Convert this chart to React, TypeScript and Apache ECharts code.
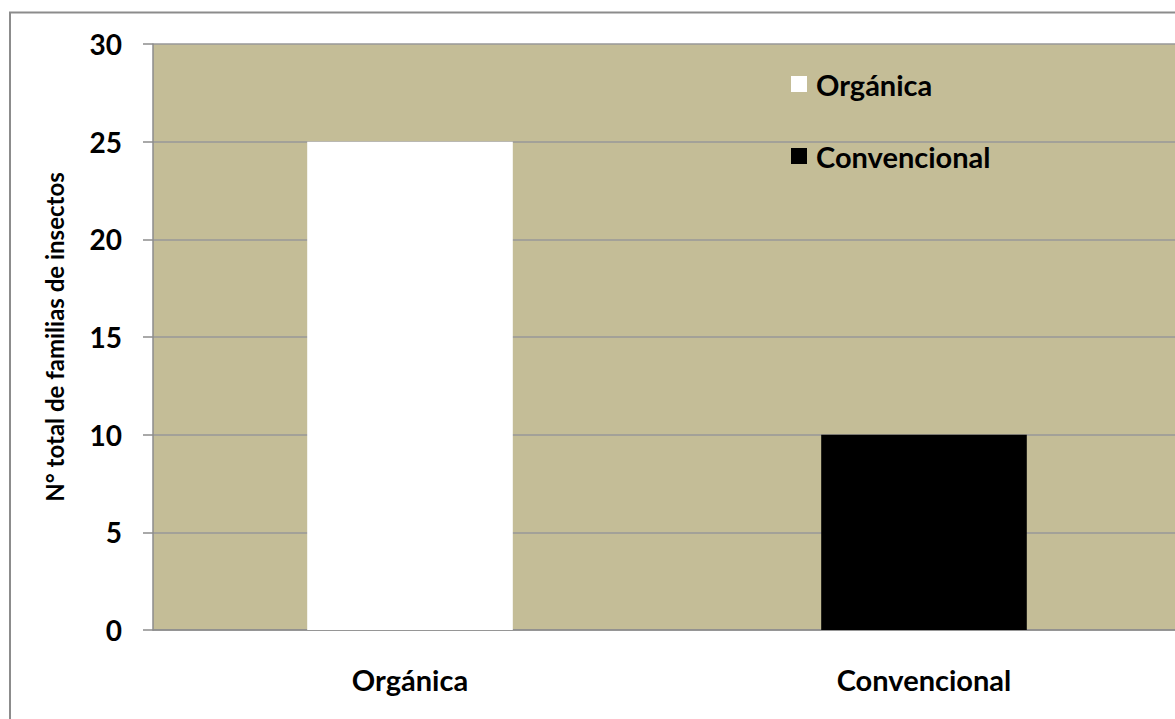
import React, { useEffect, useRef } from "react";
import * as echarts from "echarts";

const categories = ["Orgánica", "Convencional"];
const seriesNames = ["Orgánica", "Convencional"];
const organicaValues: (number | string)[] = [25, "-"];
const convencionalValues: (number | string)[] = ["-", 10];
const yTicks = { min: 0, max: 30, interval: 5 };
const yAxisTitle = "N° total de familias de insectos";

const FONT = "Lato";

export default function App() {
  const ref = useRef<HTMLDivElement>(null);
  useEffect(() => {
    if (!ref.current) return;
    const chart = echarts.init(ref.current, null, { renderer: "svg" });
    chart.setOption({
      animation: false,
      backgroundColor: "#ffffff",
      textStyle: { fontFamily: FONT },
      graphic: [
        {
          type: "rect",
          shape: { x: 10, y: 12.5, width: 1400, height: 900 },
          style: { fill: "none", stroke: "#8c8c8c", lineWidth: 2 },
          z: 100,
        },
      ],
      legend: {
        orient: "vertical",
        left: 791,
        top: 67,
        padding: 0,
        itemWidth: 16,
        itemHeight: 16,
        itemGap: 38,
        icon: "rect",
        data: seriesNames,
        textStyle: {
          fontFamily: FONT,
          fontWeight: "bold",
          fontSize: 29,
          color: "#000",
          lineHeight: 34,
          padding: [0, 0, 0, 4],
        },
      },
      grid: {
        left: 153,
        top: 44,
        right: 19,
        bottom: 89,
        show: true,
        backgroundColor: "#C4BD97",
        borderWidth: 0,
        containLabel: false,
      },
      xAxis: {
        type: "category",
        data: categories,
        axisLine: { show: true, lineStyle: { color: "#8c8c8c", width: 1.5 } },
        axisTick: { show: false },
        axisLabel: {
          margin: 35,
          fontFamily: FONT,
          fontWeight: "bold",
          fontSize: 29,
          color: "#000",
        },
      },
      yAxis: {
        type: "value",
        min: yTicks.min,
        max: yTicks.max,
        interval: yTicks.interval,
        name: yAxisTitle,
        nameLocation: "middle",
        nameGap: 87,
        nameRotate: 90,
        nameTextStyle: {
          fontFamily: FONT,
          fontWeight: "bold",
          fontSize: 24,
          color: "#000",
        },
        axisLine: { show: true, lineStyle: { color: "#8c8c8c", width: 1.5 } },
        axisTick: { show: true, length: 10, lineStyle: { color: "#8c8c8c", width: 1.5 } },
        splitLine: { show: true, lineStyle: { color: "#999999", width: 1.5 } },
        axisLabel: {
          margin: 31,
          fontFamily: FONT,
          fontWeight: "bold",
          fontSize: 28,
          color: "#000",
        },
      },
      series: [
        {
          name: seriesNames[0],
          type: "bar",
          stack: "total",
          barWidth: "40%",
          data: organicaValues,
          itemStyle: { color: "#ffffff" },
        },
        {
          name: seriesNames[1],
          type: "bar",
          stack: "total",
          barWidth: "40%",
          data: convencionalValues,
          itemStyle: { color: "#000000" },
        },
      ],
    });
    return () => chart.dispose();
  }, []);
  return (
    <div
      style={{
        position: "fixed",
        left: 0,
        top: 0,
        width: 1175,
        height: 719,
        overflow: "hidden",
        background: "#fff",
      }}
    >
      <div ref={ref} style={{ width: 1200, height: 719 }} />
    </div>
  );
}
